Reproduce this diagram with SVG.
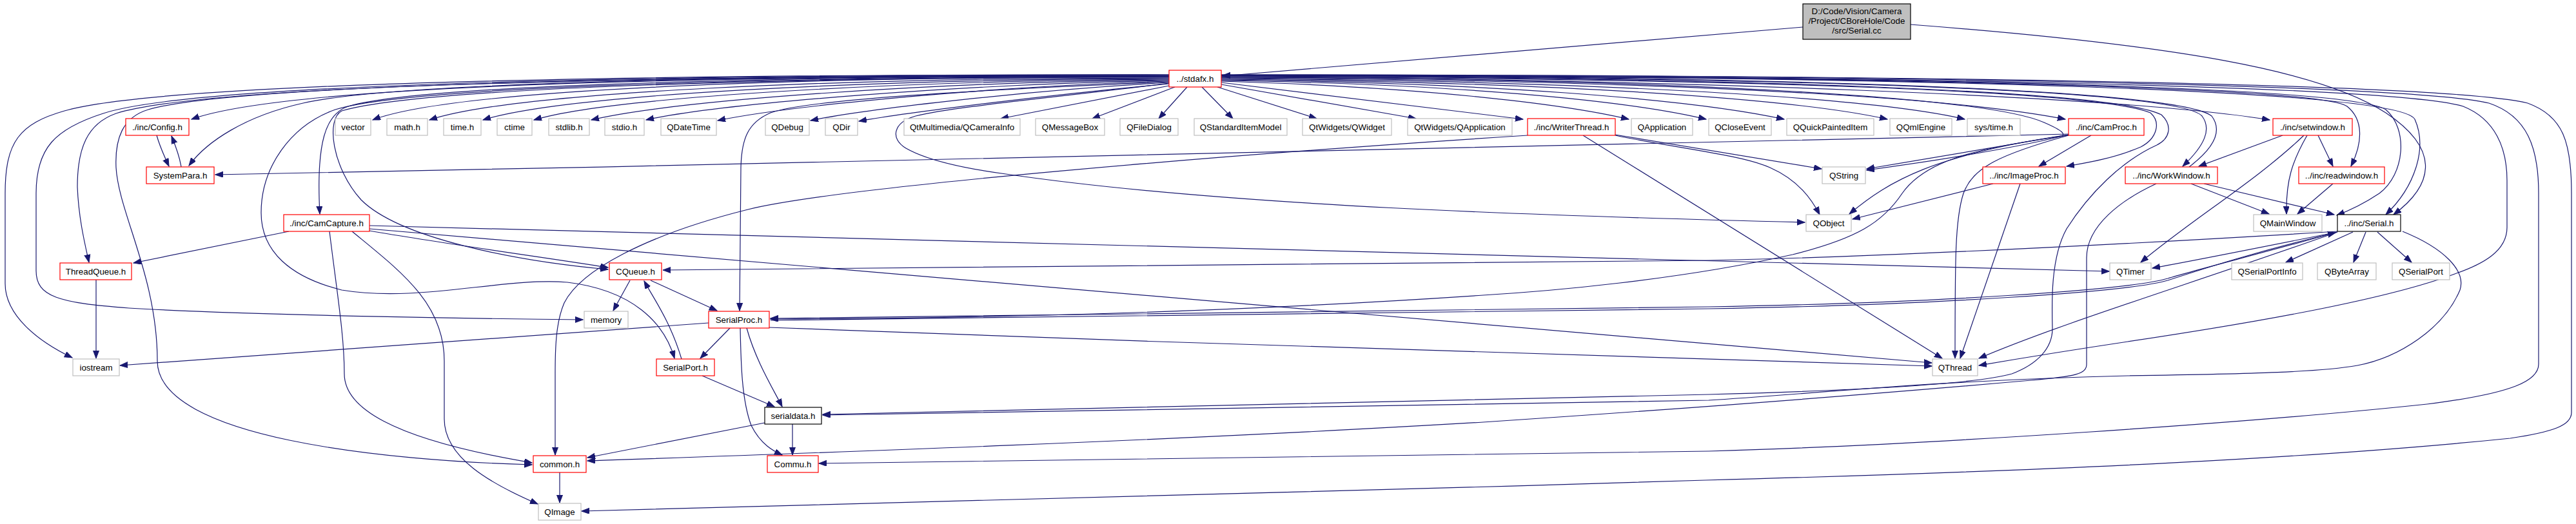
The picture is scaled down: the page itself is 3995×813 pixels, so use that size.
<svg xmlns="http://www.w3.org/2000/svg" width="3995" height="813" viewBox="0 0 3995 813">
<style>
.n rect{fill:#fff;stroke-width:1.2}
.r rect{stroke:#ff0000}
.g rect{stroke:#bfbfbf}
.k rect{stroke:#000}
.root rect{fill:#bfbfbf;stroke:#000}
text{font-family:"Liberation Sans",Arial,Helvetica,sans-serif;font-size:13.33px;text-anchor:middle;fill:#000}
#edges path{fill:none;stroke:#191970;stroke-width:1.2;marker-end:url(#a)}
</style>
<defs>
<marker id="a" markerUnits="userSpaceOnUse" markerWidth="13" markerHeight="10" refX="12" refY="4.5" orient="auto"><path d="M0,0 L12,4.5 L0,9 Z" fill="#191970" stroke="#191970" stroke-width="1"/></marker>
</defs>
<rect width="3995" height="813" fill="#fff"/>
<g id="edges">
<path d="M2796,42 L1896,118"/>
<path d="M2963,38 C3380,70 3600,110 3700,175 C3790,235 3770,290 3712,333"/>
<path d="M1813,119 C1100,117 450,130 297,185"/>
<path d="M1813,120 C1200,119 700,140 578,186"/>
<path d="M1813,121 C1300,121 800,142 666,186"/>
<path d="M1813,122 C1350,123 880,146 749,186"/>
<path d="M1813,123 C1400,125 950,150 828,186"/>
<path d="M1813,124 C1450,127 1050,155 917,186"/>
<path d="M1813,125 C1500,130 1120,160 1002,186"/>
<path d="M1813,126 C1550,133 1230,163 1113,187"/>
<path d="M1813,128 C1600,140 1350,168 1257,187"/>
<path d="M1813,130 C1650,145 1420,172 1332,188"/>
<path d="M1813,133 L1552,184"/>
<path d="M1822,135 L1694,184"/>
<path d="M1841,135 L1797,184"/>
<path d="M1864,135 L1912,184"/>
<path d="M1888,135 L2042,184"/>
<path d="M1894,131 L2196,184"/>
<path d="M1894,128 L2362,185"/>
<path d="M1894,126 C2200,135 2420,160 2526,185"/>
<path d="M1894,125 C2250,130 2520,155 2646,185"/>
<path d="M1894,124 C2300,128 2620,153 2767,185"/>
<path d="M1894,123 C2400,127 2780,152 2927,185"/>
<path d="M1894,122 C2450,125 2900,150 3047,185"/>
<path d="M1894,121 C2500,124 3000,145 3203,185"/>
<path d="M1894,120 C2600,122 3300,150 3520,186"/>
<path d="M1813,118 C1100,117 600,130 470,160 C380,180 320,220 293,257"/>
<path d="M243,210 C248,228 255,243 262,258"/>
<path d="M281,259 C278,240 272,226 266,211"/>
<path d="M1813,116 C1000,115 250,128 100,172 C30,192 8,220 8,300 L8,440 C8,490 60,530 112,555"/>
<path d="M1813,116 C1000,116 300,130 160,176 C85,200 56,230 56,300 L56,420 C56,460 90,470 200,478 C400,490 800,495 904,496"/>
<path d="M1813,117 C1000,117 320,132 180,176 C135,192 120,230 120,290 C122,340 132,380 138,407"/>
<path d="M1813,117 C1000,118 360,132 230,170 C190,182 178,215 180,260 C184,330 244,430 244,560 C244,680 600,715 825,721"/>
<path d="M1813,118 C1100,119 640,135 540,165 C505,177 490,220 496,332"/>
<path d="M1813,119 C1100,120 620,138 520,170 C450,195 405,260 405,330 C405,390 450,430 530,450 C650,470 780,430 880,438 C980,450 1030,500 1046,556"/>
<path d="M1813,119 C1100,121 640,140 530,172 C505,185 515,260 560,310 C620,370 800,405 943,418"/>
<path d="M1813,127 C1500,140 1250,155 1195,175 C1160,190 1150,215 1149,260 L1147,482"/>
<path d="M1813,129 C1650,150 1480,165 1420,180 C1385,190 1380,215 1405,230 C1440,250 1500,262 1560,270 C1900,320 2400,335 2799,345"/>
<path d="M1894,120 C2600,122 3080,150 3170,190 C3200,203 3205,209 3195,212 C3100,235 2960,255 2895,264"/>
<path d="M3208,209 C3100,228 2960,250 2895,262"/>
<path d="M3208,208 C2600,225 1400,250 334,271"/>
<path d="M3208,209 C3000,240 2930,280 2868,332"/>
<path d="M3243,210 L3162,258"/>
<path d="M3208,210 C3100,240 3060,260 3045,300 C3032,340 3032,400 3032,556"/>
<path d="M3208,210 C3060,230 2985,250 2950,300 C2920,345 2880,370 2780,395 C2600,435 2400,452 2300,458 C1900,485 1500,494 1195,495"/>
<path d="M3091,285 L2873,340"/>
<path d="M3133,285 L3040,556"/>
<path d="M1894,119 C2700,122 3250,140 3335,175 C3352,190 3345,215 3320,228 C3280,245 3240,252 3205,258"/>
<path d="M1894,118 C2700,120 3280,140 3352,178 C3370,195 3365,215 3345,225 C3290,250 3240,300 3205,355 C3180,400 3182,470 3183,510 C3183,540 3160,565 3120,580 C3050,600 2800,608 2650,612 L1276,643"/>
<path d="M1894,118 C2800,119 3380,140 3415,180 C3430,200 3420,225 3385,258"/>
<path d="M3395,259 C3440,225 3445,200 3430,180 C3380,140 2800,118 1896,117"/>
<path d="M1894,117 C2900,118 3600,135 3640,165 C3665,185 3665,220 3646,258"/>
<path d="M1894,117 C3000,118 3640,135 3700,170 C3735,200 3730,270 3690,300 C3660,320 3640,328 3624,334"/>
<path d="M1894,117 C3000,118 3720,140 3745,185 C3765,230 3745,290 3700,333"/>
<path d="M1894,117 C3000,117 3720,135 3820,165 C3870,185 3888,230 3888,280 L3888,353 C3888,390 3850,410 3807,425 C3700,465 3500,500 3300,530 C3180,548 3110,560 3069,567"/>
<path d="M1894,116 C3000,116 3750,133 3860,160 C3920,180 3937,230 3937,300 L3937,565 C3937,590 3900,610 3764,627 C3500,655 3000,690 2650,700 C2000,708 1500,716 1270,719"/>
<path d="M1894,116 C3000,116 3800,130 3920,160 C3975,180 3988,220 3988,300 L3988,640 C3988,660 3960,670 3893,680 C3600,710 3200,730 2645,745 C2000,765 1300,785 902,793"/>
<path d="M2505,209 L2825,262"/>
<path d="M2505,210 C2600,230 2700,240 2745,260 C2790,280 2810,310 2822,333"/>
<path d="M2455,210 L3012,556"/>
<path d="M2369,210 C1900,240 1300,290 1160,325 C1000,365 900,420 875,470 C862,500 861,540 861,580 L861,706"/>
<path d="M3540,210 L3410,258"/>
<path d="M3573,210 C3500,280 3400,340 3320,407"/>
<path d="M3578,210 C3555,250 3545,280 3546,332"/>
<path d="M3595,210 L3618,258"/>
<path d="M3618,285 L3563,332"/>
<path d="M3398,285 L3519,332"/>
<path d="M3418,285 L3620,333"/>
<path d="M3344,285 C3290,310 3236,350 3236,400 L3236,565 C3236,580 3220,584 3150,590 C2900,612 2600,635 2300,655 C1800,685 1200,705 911,715"/>
<path d="M3649,360 L3545,407"/>
<path d="M3669,360 L3650,407"/>
<path d="M3687,360 L3740,407"/>
<path d="M3625,360 C3500,385 3400,405 3338,416"/>
<path d="M3625,359 C3200,385 2850,400 2650,404 C2000,412 1400,419 1028,419"/>
<path d="M3625,360 C3500,395 3400,420 3362,432 C3300,450 3000,470 2650,476 C2000,486 1500,492 1195,494"/>
<path d="M1195,497 C1500,494 2000,489 2650,479 C3000,473 3300,453 3362,435 C3420,416 3500,390 3622,361"/>
<path d="M3625,360 C3400,440 3200,500 3069,556"/>
<path d="M3726,359 C3790,385 3825,420 3815,450 C3790,510 3720,555 3656,567 C3600,577 3500,580 3300,583 C3000,590 2800,612 2650,621 L1276,644"/>
<path d="M448,359 L207,408"/>
<path d="M573,358 C700,380 850,400 943,415"/>
<path d="M573,355 L2996,563"/>
<path d="M573,350 L3271,421"/>
<path d="M511,359 C522,450 534,520 534,580 C534,630 600,680 825,718"/>
<path d="M546,359 C620,420 689,470 689,560 L689,650 C689,710 760,750 834,782"/>
<path d="M149,434 L149,556"/>
<path d="M977,435 L951,482"/>
<path d="M1009,435 L1112,482"/>
<path d="M1099,501 L186,567"/>
<path d="M1132,509 L1086,556"/>
<path d="M1158,509 C1172,560 1200,605 1213,631"/>
<path d="M1148,509 C1149,560 1150,620 1165,660 C1180,690 1200,700 1213,706"/>
<path d="M1193,508 C1800,530 2500,557 2996,568"/>
<path d="M1057,557 C1040,500 1015,465 999,436"/>
<path d="M1089,583 L1201,631"/>
<path d="M1186,656 L911,710"/>
<path d="M1229,658 L1229,706"/>
<path d="M868,733 L868,780"/>
</g>
<g id="nodes">
<g id="n_root" class="n root"><rect x="2796" y="6" width="167" height="55"/><text x="2879.5" y="21.5">D:/Code/Vision/Camera</text><text x="2879.5" y="36.5">/Project/CBoreHole/Code</text><text x="2879.5" y="51.5">/src/Serial.cc</text></g>
<g id="n_stdafx" class="n r"><rect x="1813" y="109" width="81" height="26"/><text x="1853.5" y="126.5">../stdafx.h</text></g>
<g id="n_config" class="n r"><rect x="195" y="184" width="98" height="26"/><text x="244" y="201.5">./inc/Config.h</text></g>
<g id="n_vector" class="n g"><rect x="520" y="184" width="55" height="26"/><text x="547.5" y="201.5">vector</text></g>
<g id="n_math" class="n g"><rect x="600" y="184" width="63" height="26"/><text x="631.5" y="201.5">math.h</text></g>
<g id="n_time" class="n g"><rect x="688" y="184" width="58" height="26"/><text x="717" y="201.5">time.h</text></g>
<g id="n_ctime" class="n g"><rect x="771" y="184" width="54" height="26"/><text x="798" y="201.5">ctime</text></g>
<g id="n_stdlib" class="n g"><rect x="851" y="184" width="63" height="26"/><text x="882.5" y="201.5">stdlib.h</text></g>
<g id="n_stdio" class="n g"><rect x="938" y="184" width="61" height="26"/><text x="968.5" y="201.5">stdio.h</text></g>
<g id="n_qdatetime" class="n g"><rect x="1025" y="184" width="86" height="26"/><text x="1068" y="201.5">QDateTime</text></g>
<g id="n_qdebug" class="n g"><rect x="1187" y="184" width="68" height="26"/><text x="1221" y="201.5">QDebug</text></g>
<g id="n_qdir" class="n g"><rect x="1280" y="184" width="50" height="26"/><text x="1305" y="201.5">QDir</text></g>
<g id="n_qcamerainfo" class="n g"><rect x="1402" y="184" width="180" height="26"/><text x="1492" y="201.5">QtMultimedia/QCameraInfo</text></g>
<g id="n_qmessagebox" class="n g"><rect x="1606" y="184" width="107" height="26"/><text x="1659.5" y="201.5">QMessageBox</text></g>
<g id="n_qfiledialog" class="n g"><rect x="1737" y="184" width="90" height="26"/><text x="1782" y="201.5">QFileDialog</text></g>
<g id="n_qstdmodel" class="n g"><rect x="1852" y="184" width="144" height="26"/><text x="1924" y="201.5">QStandardItemModel</text></g>
<g id="n_qwidget" class="n g"><rect x="2020" y="184" width="138" height="26"/><text x="2089" y="201.5">QtWidgets/QWidget</text></g>
<g id="n_qwapp" class="n g"><rect x="2183" y="184" width="162" height="26"/><text x="2264" y="201.5">QtWidgets/QApplication</text></g>
<g id="n_writer" class="n r"><rect x="2369" y="184" width="136" height="26"/><text x="2437" y="201.5">./inc/WriterThread.h</text></g>
<g id="n_qapp" class="n g"><rect x="2530" y="184" width="95" height="26"/><text x="2577.5" y="201.5">QApplication</text></g>
<g id="n_qclose" class="n g"><rect x="2650" y="184" width="97" height="26"/><text x="2698.5" y="201.5">QCloseEvent</text></g>
<g id="n_qquick" class="n g"><rect x="2771" y="184" width="135" height="26"/><text x="2838.5" y="201.5">QQuickPaintedItem</text></g>
<g id="n_qqml" class="n g"><rect x="2931" y="184" width="96" height="26"/><text x="2979" y="201.5">QQmlEngine</text></g>
<g id="n_systime" class="n g"><rect x="3051" y="184" width="82" height="26"/><text x="3092" y="201.5">sys/time.h</text></g>
<g id="n_camproc" class="n r"><rect x="3208" y="184" width="117" height="26"/><text x="3266.5" y="201.5">./inc/CamProc.h</text></g>
<g id="n_setwindow" class="n r"><rect x="3525" y="184" width="123" height="26"/><text x="3586.5" y="201.5">./inc/setwindow.h</text></g>
<g id="n_systempara" class="n r"><rect x="227" y="259" width="105" height="26"/><text x="279.5" y="276.5">SystemPara.h</text></g>
<g id="n_qstring" class="n g"><rect x="2826" y="259" width="67" height="26"/><text x="2859.5" y="276.5">QString</text></g>
<g id="n_imageproc" class="n r"><rect x="3075" y="259" width="128" height="26"/><text x="3139" y="276.5">../inc/ImageProc.h</text></g>
<g id="n_workwindow" class="n r"><rect x="3296" y="259" width="143" height="26"/><text x="3367.5" y="276.5">../inc/WorkWindow.h</text></g>
<g id="n_readwindow" class="n r"><rect x="3565" y="259" width="133" height="26"/><text x="3631.5" y="276.5">../inc/readwindow.h</text></g>
<g id="n_camcapture" class="n r"><rect x="440" y="333" width="133" height="26"/><text x="506.5" y="350.5">./inc/CamCapture.h</text></g>
<g id="n_qobject" class="n g"><rect x="2801" y="333" width="70" height="26"/><text x="2836" y="350.5">QObject</text></g>
<g id="n_qmainwindow" class="n g"><rect x="3495" y="333" width="106" height="26"/><text x="3548" y="350.5">QMainWindow</text></g>
<g id="n_serial" class="n k"><rect x="3625" y="333" width="98" height="26"/><text x="3674" y="350.5">../inc/Serial.h</text></g>
<g id="n_threadqueue" class="n r"><rect x="93" y="408" width="111" height="26"/><text x="148.5" y="425.5">ThreadQueue.h</text></g>
<g id="n_cqueue" class="n r"><rect x="945" y="408" width="81" height="26"/><text x="985.5" y="425.5">CQueue.h</text></g>
<g id="n_qtimer" class="n g"><rect x="3272" y="408" width="64" height="26"/><text x="3304" y="425.5">QTimer</text></g>
<g id="n_qserialportinfo" class="n g"><rect x="3461" y="408" width="110" height="26"/><text x="3516" y="425.5">QSerialPortInfo</text></g>
<g id="n_qbytearray" class="n g"><rect x="3594" y="408" width="91" height="26"/><text x="3639.5" y="425.5">QByteArray</text></g>
<g id="n_qserialport" class="n g"><rect x="3710" y="408" width="89" height="26"/><text x="3754.5" y="425.5">QSerialPort</text></g>
<g id="n_memory" class="n g"><rect x="906" y="483" width="68" height="26"/><text x="940" y="500.5">memory</text></g>
<g id="n_serialproc" class="n r"><rect x="1099" y="483" width="94" height="26"/><text x="1146" y="500.5">SerialProc.h</text></g>
<g id="n_iostream" class="n g"><rect x="113" y="557" width="72" height="26"/><text x="149" y="574.5">iostream</text></g>
<g id="n_serialport" class="n r"><rect x="1018" y="557" width="90" height="26"/><text x="1063" y="574.5">SerialPort.h</text></g>
<g id="n_qthread" class="n g"><rect x="2997" y="557" width="70" height="26"/><text x="3032" y="574.5">QThread</text></g>
<g id="n_serialdata" class="n k"><rect x="1186" y="632" width="88" height="26"/><text x="1230" y="649.5">serialdata.h</text></g>
<g id="n_common" class="n r"><rect x="827" y="707" width="82" height="26"/><text x="868" y="724.5">common.h</text></g>
<g id="n_commu" class="n r"><rect x="1190" y="707" width="79" height="26"/><text x="1229.5" y="724.5">Commu.h</text></g>
<g id="n_qimage" class="n g"><rect x="835" y="781" width="66" height="26"/><text x="868" y="798.5">QImage</text></g>
</g>
</svg>
